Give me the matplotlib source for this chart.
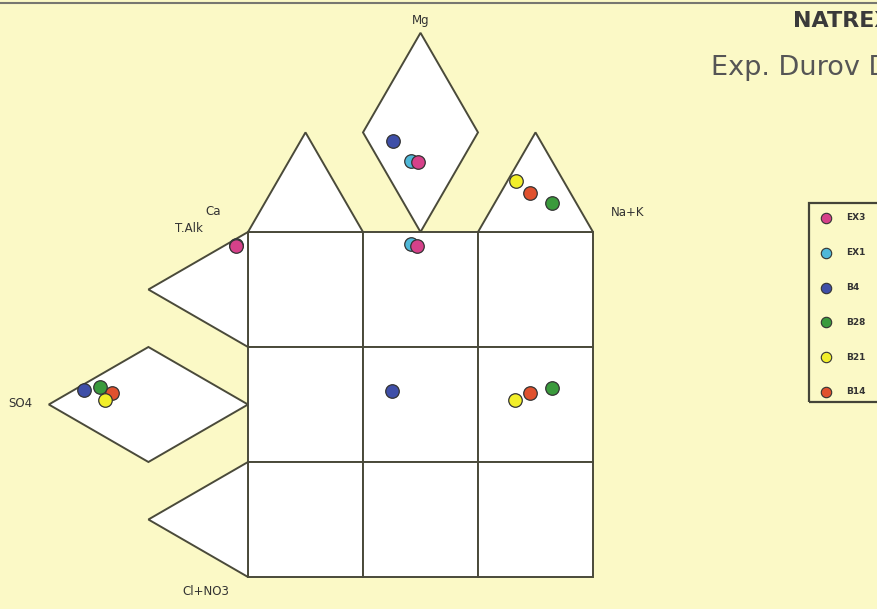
import numpy as np
import matplotlib
matplotlib.use("Agg")
import matplotlib.pyplot as plt
from matplotlib.patches import Polygon, Rectangle

# Samples and colours (legend order)
samples = ["EX3", "EX1", "B4", "B28", "B21", "B14"]
colors = ["#d6418a", "#4fb8d8", "#3f4fa8", "#3a9a3c", "#f2ef2a", "#e0512e"]

# Point positions in diagram units (1 unit = one grid cell, origin at the
# top-left corner of the square grid, y pointing up)
mg_diamond = {"B4": (1.26, 0.79), "EX1": (1.42, 0.62), "EX3": (1.48, 0.61)}
nak_triangle = {"B21": (2.33, 0.44), "B14": (2.45, 0.34), "B28": (2.64, 0.25)}
grid_top = {"EX1": (1.42, -0.10), "EX3": (1.47, -0.12)}
alk_triangle = {"EX1": (-0.10, -0.11), "EX3": (-0.10, -0.12)}
so4_diamond = {"B4": (-1.43, -1.37), "B28": (-1.29, -1.35),
               "B14": (-1.18, -1.40), "B21": (-1.24, -1.46)}
grid_mid = {"B4": (1.25, -1.38), "B21": (2.32, -1.46),
            "B14": (2.45, -1.40), "B28": (2.64, -1.36)}
groups = [mg_diamond, nak_triangle, grid_top, alk_triangle, so4_diamond, grid_mid]
draw_order = ["EX1", "EX3", "B4", "B28", "B14", "B21"]

bg = "#fbf9c6"
edge = "#4a4a3a"
h = np.sqrt(3) / 2

fig = plt.figure(figsize=(8.78, 6.09), dpi=100, facecolor=bg)
ax = fig.add_axes([0, 0, 1, 1])
ax.set_facecolor(bg)
s = 115.0
ax.set_xlim(-248 / s, (878 - 248) / s)
ax.set_ylim((232 - 609) / s, 232 / s)
ax.axis("off")

def shape(pts):
    ax.add_patch(Polygon(pts, closed=True, facecolor="white", edgecolor=edge, lw=1.4, zorder=1))

# square grid
for i in range(3):
    for j in range(3):
        ax.add_patch(Rectangle((i, -j - 1), 1, 1, facecolor="white", edgecolor=edge, lw=1.4, zorder=1))
# top shapes
shape([(0, 0), (1, 0), (0.5, h)])
shape([(2, 0), (3, 0), (2.5, h)])
shape([(1.5, 0), (2, h), (1.5, 2 * h), (1, h)])
# left shapes
shape([(0, 0), (0, -1), (-h, -0.5)])
shape([(0, -1.5), (-h, -1), (-2 * h, -1.5), (-h, -2)])
shape([(0, -2), (0, -3), (-h, -2.5)])

# points
for name in draw_order:
    c = colors[samples.index(name)]
    for g in groups:
        if name in g:
            x, y = g[name]
            ax.scatter(x, y, s=95, color=c, edgecolor="#333333", lw=0.9, zorder=3)

# axis labels
lab = dict(fontsize=8.5, color="#333333", ha="center", va="center")
ax.text(1.5, 2 * h + 0.11, "Mg", **lab)
ax.text(-0.30, 0.18, "Ca", **lab)
ax.text(-0.51, 0.03, "T.Alk", **lab)
ax.text(3.3, 0.17, "Na+K", **lab)
ax.text(-1.98, -1.49, "SO4", **lab)
ax.text(-0.37, -3.13, "Cl+NO3", **lab)

# top border line
fig.add_artist(plt.Line2D([0, 1], [1 - 3 / 609, 1 - 3 / 609], transform=fig.transFigure,
                          color="#777770", lw=1.5))

# titles (cut by the right figure edge, as in the reference)
fig.text(793 / 878, 1 - 21 / 609, "NATREX", fontsize=16, fontweight="bold",
         color="#3a3a3a", va="center")
fig.text(711 / 878, 1 - 68 / 609, "Exp. Durov Diagram", fontsize=19.5,
         color="#555555", va="center")

# legend box
lx0, ly0, lx1, ly1 = 809, 203, 880, 402
fig.add_artist(Rectangle((lx0 / 878, 1 - ly1 / 609), (lx1 - lx0) / 878, (ly1 - ly0) / 609,
                         transform=fig.transFigure, facecolor="none",
                         edgecolor="#444438", lw=1.6))
for k, (name, c) in enumerate(zip(samples, colors)):
    yy = 1 - (218 + 34.8 * k) / 609
    fig.add_artist(plt.Line2D([826 / 878], [yy], transform=fig.transFigure, marker="o",
                              markersize=7.5, color=c, markeredgecolor="#333333",
                              markeredgewidth=0.8, linestyle="none"))
    fig.text(846 / 878, yy, name, fontsize=6.5, fontweight="bold", color="#333333", va="center")

fig.savefig("out.png", dpi=100, facecolor=bg)
